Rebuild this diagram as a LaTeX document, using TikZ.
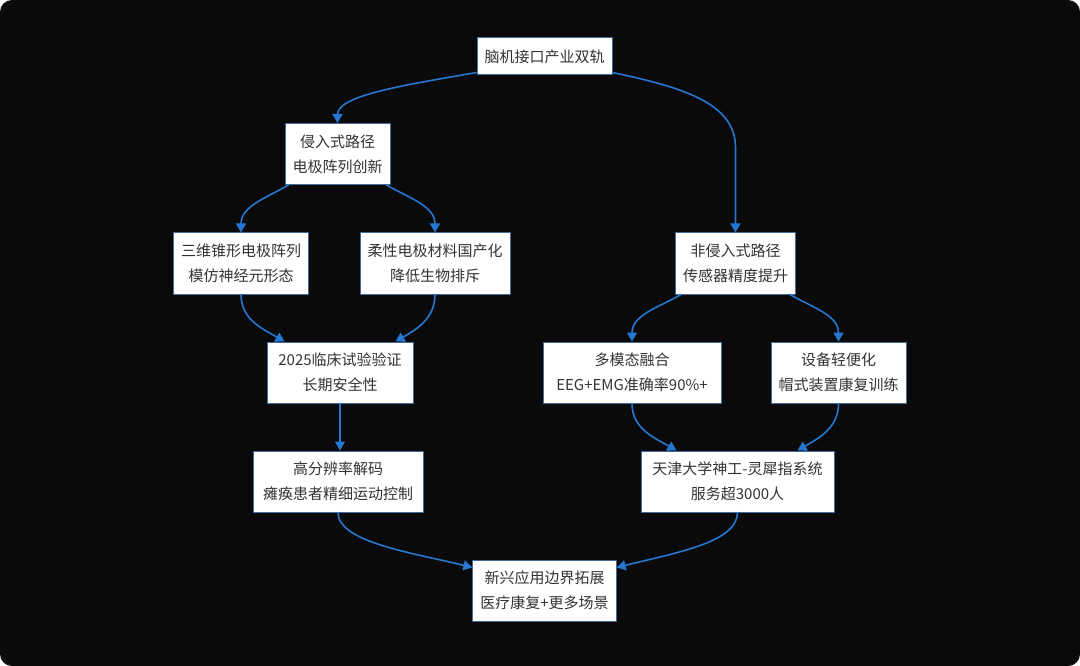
\documentclass[tikz,border=0pt]{standalone}
\usepackage{fontspec}
\setmainfont{Noto Sans CJK SC}
\usetikzlibrary{calc}
\usetikzlibrary{arrows.meta}

\begin{document}
\begin{tikzpicture}[line cap=round,line join=round,>={Triangle[length=9pt,width=10pt]},x=1pt,y=1pt,
  box/.style={draw=boxedge,line width=1pt,fill=white,text=textgray,align=center,inner xsep=7.5pt,font=\fontsize{15pt}{25pt}\selectfont},
  onebox/.style={box,minimum height=37pt},
  twobox/.style={box,minimum height=61pt},
  link/.style={->,line width=1.6pt,color=edgeblue}]
\definecolor{edgeblue}{rgb}{0.14,0.47,0.82}
\definecolor{boxedge}{rgb}{0.27,0.42,0.62}
\definecolor{textgray}{rgb}{0.2,0.2,0.2}
\definecolor{bgblack}{rgb}{0.04,0.04,0.04}
\useasboundingbox (0,0) rectangle (1080,-666);
\fill[white] (0,0) rectangle (1080,-666);
\fill[bgblack,rounded corners=12pt] (0,0) rectangle (1080,-666);
% nodes
\node[onebox] (root) at (544.5,-56.5) {脑机接口产业双轨};
\node[twobox] (inv) at (337.5,-154) {侵入式路径\\电极阵列创新};
\node[twobox] (cone) at (241,-263.5) {三维锥形电极阵列\\模仿神经元形态};
\node[twobox] (flex) at (435,-263.5) {柔性电极材料国产化\\降低生物排斥};
\node[twobox] (noninv) at (735.5,-263.5) {非侵入式路径\\传感器精度提升};
\node[twobox,minimum width=146pt] (trial) at (340,-372.5) {2025临床试验验证\\长期安全性};
\node[twobox,minimum width=178pt] (fusion) at (632,-372.5) {多模态融合\\EEG+EMG准确率90\%+};
\node[twobox] (light) at (838.5,-372.5) {设备轻便化\\帽式装置康复训练};
\node[twobox,minimum width=170pt] (decode) at (338,-481.5) {高分辨率解码\\瘫痪患者精细运动控制};
\node[twobox,minimum width=193pt] (tianjin) at (737.5,-481.5) {天津大学神工-灵犀指系统\\服务超3000人};
\node[twobox] (app) at (544.5,-590.5) {新兴应用边界拓展\\医疗康复+更多场景};
% links
\draw[link] ([yshift=3pt]root.south west) to[out=190,in=90,out distance=70pt,in distance=28pt] (inv.north);
\draw[link] ([yshift=3pt]root.south east) to[out=-12,in=90,out distance=70pt,in distance=45pt] ($(noninv.north)+(0,85)$) -- (noninv.north);
\draw[link] ([xshift=4pt]inv.south west) to[out=210,in=90] (cone.north);
\draw[link] ([xshift=-4pt]inv.south east) to[out=-30,in=90] (flex.north);
\draw[link] ([xshift=6pt]noninv.south west) to[out=210,in=90] (fusion.north);
\draw[link] ([xshift=-6pt]noninv.south east) to[out=-30,in=90] (light.north);
\draw[link] (cone.south) to[out=-90,in=150] ([xshift=18pt]trial.north west);
\draw[link] (flex.south) to[out=-90,in=30] ([xshift=-18pt]trial.north east);
\draw[link] (fusion.south) to[out=-90,in=150] ([xshift=36pt]tianjin.north west);
\draw[link] (light.south) to[out=-90,in=30] ([xshift=-37pt]tianjin.north east);
\draw[link] (trial.south) -- (trial.south |- decode.north);
\draw[link] (decode.south) to[out=-90,in=166,out distance=30pt,in distance=60pt] ([yshift=-8pt]app.north west);
\draw[link] (tianjin.south) to[out=-90,in=14,out distance=30pt,in distance=60pt] ([yshift=-8pt]app.north east);
\end{tikzpicture}
\end{document}
